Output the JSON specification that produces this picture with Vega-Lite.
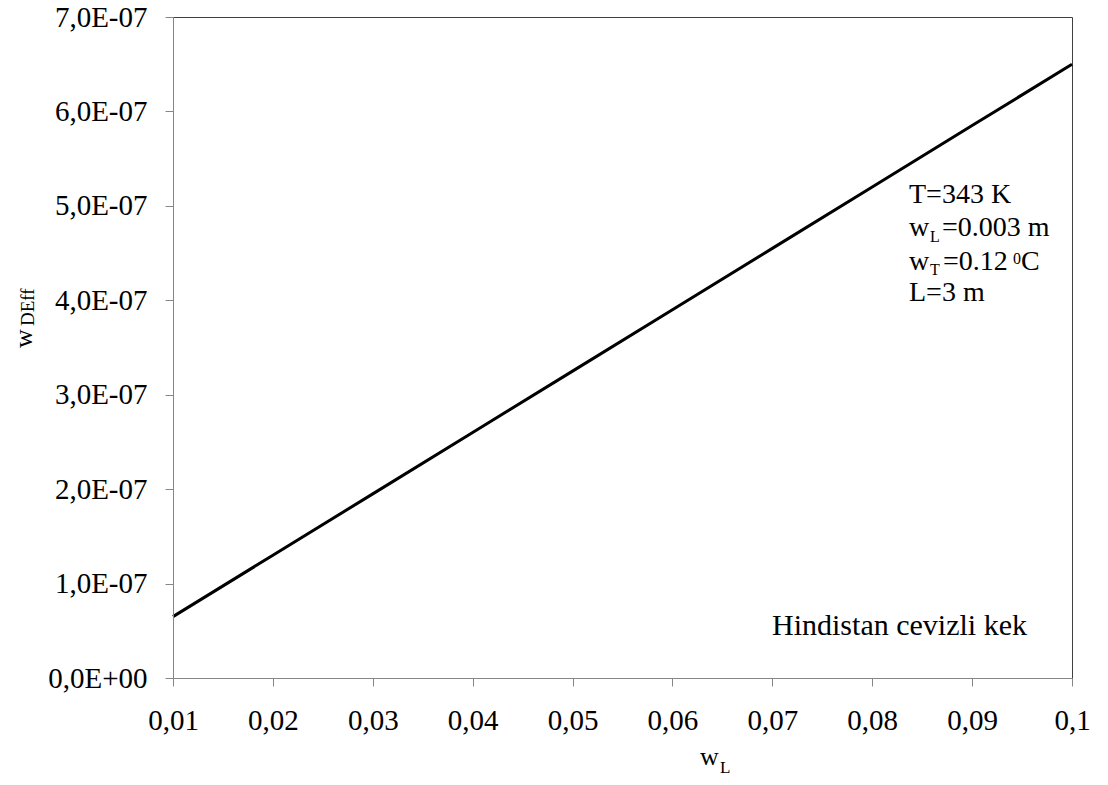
{
  "$schema": "https://vega.github.io/schema/vega-lite/v6.json",
  "width": 899,
  "height": 661,
  "autosize": {"type": "none"},
  "padding": {"left": 173, "top": 17, "right": 36, "bottom": 107},
  "background": "white",
  "config": {
    "view": {"stroke": "#404040", "strokeWidth": 1},
    "font": "Liberation Serif",
    "text": {"font": "Liberation Serif", "color": "black"}
  },
  "datasets": {
    "curve": [
      {"wL": 0.01, "wDEff": 6.5e-8},
      {"wL": 0.02, "wDEff": 1.3e-7},
      {"wL": 0.03, "wDEff": 1.95e-7},
      {"wL": 0.04, "wDEff": 2.6e-7},
      {"wL": 0.05, "wDEff": 3.25e-7},
      {"wL": 0.06, "wDEff": 3.9e-7},
      {"wL": 0.07, "wDEff": 4.55e-7},
      {"wL": 0.08, "wDEff": 5.2e-7},
      {"wL": 0.09, "wDEff": 5.85e-7},
      {"wL": 0.1, "wDEff": 6.5e-7}
    ],
    "texts": [
      {"role": "ann", "text": "T=343 K", "wL": 0.08368, "wDEff": 5.03e-7},
      {"role": "ann", "text": "w", "wL": 0.08368, "wDEff": 4.681e-7},
      {"role": "ann", "text": "=0.003 m", "wL": 0.08698, "wDEff": 4.681e-7},
      {"role": "ann", "text": "w", "wL": 0.08368, "wDEff": 4.321e-7},
      {"role": "ann", "text": "=0.12", "wL": 0.08708, "wDEff": 4.321e-7},
      {"role": "ann", "text": "C", "wL": 0.09489, "wDEff": 4.321e-7},
      {"role": "ann", "text": "L=3 m", "wL": 0.08368, "wDEff": 3.993e-7},
      {"role": "sub", "text": "L", "wL": 0.08578, "wDEff": 4.617e-7},
      {"role": "sub", "text": "T", "wL": 0.08578, "wDEff": 4.268e-7},
      {"role": "sub", "text": "0", "wL": 0.09409, "wDEff": 4.384e-7},
      {"role": "kek", "text": "Hindistan cevizli kek", "wL": 0.06997, "wDEff": 4.55e-8},
      {"role": "xt", "text": "w", "wL": 0.06276, "wDEff": -9.21e-8},
      {"role": "xtsub", "text": "L", "wL": 0.06476, "wDEff": -1.01e-7},
      {"role": "yt", "text": "w", "wL": -0.004116, "wDEff": 3.495e-7},
      {"role": "ytsub", "text": "DEff", "wL": -0.003915, "wDEff": 3.728e-7}
    ]
  },
  "encoding": {
    "x": {
      "field": "wL", "type": "quantitative",
      "scale": {"domain": [0.01, 0.1], "nice": false, "zero": false},
      "axis": {
        "title": null, "grid": false, "zindex": 1,
        "values": [0.01, 0.02, 0.03, 0.04, 0.05, 0.06, 0.07, 0.08, 0.09, 0.1],
        "labelExpr": "replace(format(datum.value, '.2~f'), '.', ',')",
        "labelFont": "Liberation Serif", "labelFontSize": 29, "labelColor": "black",
        "labelPadding": 20, "labelFlush": false, "labelOverlap": false,
        "domainColor": "#868686", "tickColor": "#868686", "tickSize": 8
      }
    },
    "y": {
      "field": "wDEff", "type": "quantitative",
      "scale": {"domain": [0, 7e-7], "nice": false, "zero": true},
      "axis": {
        "title": null, "grid": false, "zindex": 1,
        "values": [0, 1e-7, 2e-7, 3e-7, 4e-7, 5e-7, 6e-7, 7e-7],
        "labelExpr": "datum.value == 0 ? '0,0E+00' : replace(format(datum.value * 1e7, '.1f'), '.', ',') + 'E-07'",
        "labelFont": "Liberation Serif", "labelFontSize": 29, "labelColor": "black",
        "labelPadding": 18, "labelFlush": false, "labelOverlap": false,
        "domainColor": "#868686", "tickColor": "#868686", "tickSize": 8
      }
    }
  },
  "layer": [
    {
      "data": {"name": "curve"},
      "mark": {"type": "line", "color": "black", "strokeWidth": 3}
    },
    {
      "data": {"name": "texts"},
      "transform": [{"filter": "datum.role == 'ann'"}],
      "mark": {"type": "text", "align": "left", "baseline": "alphabetic", "fontSize": 28, "clip": false},
      "encoding": {"text": {"field": "text"}}
    },
    {
      "data": {"name": "texts"},
      "transform": [{"filter": "datum.role == 'sub'"}],
      "mark": {"type": "text", "align": "left", "baseline": "alphabetic", "fontSize": 16, "clip": false},
      "encoding": {"text": {"field": "text"}}
    },
    {
      "data": {"name": "texts"},
      "transform": [{"filter": "datum.role == 'kek'"}],
      "mark": {"type": "text", "align": "left", "baseline": "alphabetic", "fontSize": 30, "clip": false},
      "encoding": {"text": {"field": "text"}}
    },
    {
      "data": {"name": "texts"},
      "transform": [{"filter": "datum.role == 'xt'"}],
      "mark": {"type": "text", "align": "left", "baseline": "alphabetic", "fontSize": 26, "clip": false},
      "encoding": {"text": {"field": "text"}}
    },
    {
      "data": {"name": "texts"},
      "transform": [{"filter": "datum.role == 'xtsub'"}],
      "mark": {"type": "text", "align": "left", "baseline": "alphabetic", "fontSize": 17, "clip": false},
      "encoding": {"text": {"field": "text"}}
    },
    {
      "data": {"name": "texts"},
      "transform": [{"filter": "datum.role == 'yt'"}],
      "mark": {"type": "text", "align": "left", "baseline": "alphabetic", "fontSize": 26, "angle": 270, "clip": false},
      "encoding": {"text": {"field": "text"}}
    },
    {
      "data": {"name": "texts"},
      "transform": [{"filter": "datum.role == 'ytsub'"}],
      "mark": {"type": "text", "align": "left", "baseline": "alphabetic", "fontSize": 19, "angle": 270, "clip": false},
      "encoding": {"text": {"field": "text"}}
    }
  ]
}
